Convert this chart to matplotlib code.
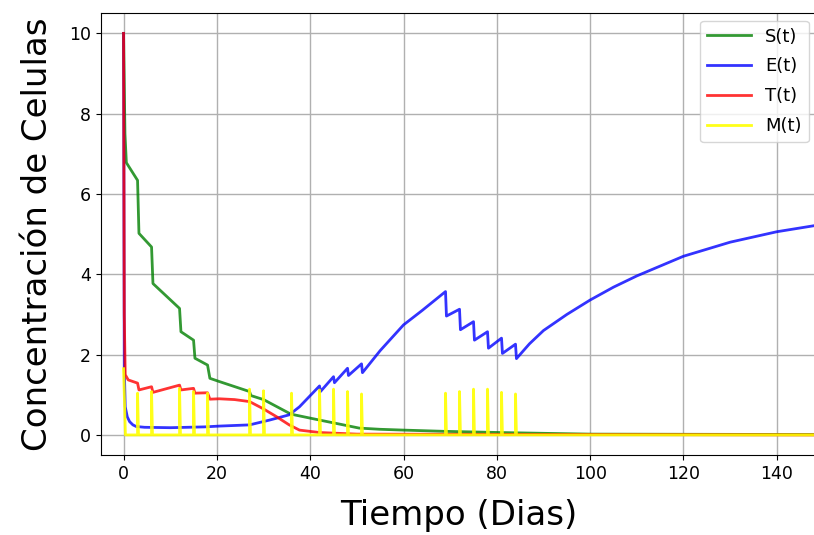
import matplotlib
matplotlib.use('Agg')
import matplotlib.pyplot as plt

# S(t) - green
s_t = [0, 0.3, 0.6, 3.0, 3.3, 6.0, 6.3, 12.0, 12.3, 15.0, 15.3, 18.0, 18.5, 20.5, 27.0, 27.3,
       30.0, 35.5, 36.6, 42.0, 45.0, 50.5, 55.0, 60.0, 68.5, 80.5, 90.0, 100.0, 148.5]
s_v = [10.0, 7.5, 6.78, 6.34, 5.02, 4.68, 3.77, 3.15, 2.57, 2.36, 1.91, 1.74, 1.41, 1.33, 1.08, 0.98,
       0.88, 0.54, 0.5, 0.37, 0.3, 0.17, 0.14, 0.12, 0.09, 0.06, 0.04, 0.02, 0.01]

# E(t) - blue
e_t = [0, 0.15, 0.36, 0.8, 1.3, 2.0, 2.7, 4.5, 10.0, 17.3, 20.5, 27.0, 31.3, 35.5, 37.7,
       42.0, 42.2, 45.0, 45.2, 48.0, 48.2, 51.0, 51.2, 55.0, 60.0, 64.0, 69.0, 69.2,
       72.0, 72.2, 75.0, 75.2, 78.0, 78.2, 81.0, 81.2, 84.0, 84.2,
       87.0, 90.0, 95.0, 100.0, 105.0, 110.0, 120.0, 130.0, 140.0, 148.5]
e_v = [10.0, 1.7, 0.7, 0.45, 0.33, 0.25, 0.21, 0.19, 0.18, 0.2, 0.22, 0.25, 0.37, 0.5, 0.7,
       1.22, 1.08, 1.45, 1.3, 1.66, 1.48, 1.77, 1.55, 2.1, 2.74, 3.1, 3.57, 2.96,
       3.13, 2.62, 2.82, 2.36, 2.57, 2.16, 2.41, 2.03, 2.26, 1.9,
       2.27, 2.6, 3.0, 3.36, 3.68, 3.96, 4.45, 4.8, 5.06, 5.22]

# T(t) - red
t_t = [0, 0.15, 0.36, 1.0, 2.0, 3.0, 3.3, 6.0, 6.3, 12.0, 12.3, 15.0, 15.3, 18.0, 18.5,
       20.5, 23.8, 27.0, 29.8, 32.7, 35.5, 37.7, 42.0, 50.0, 148.5]
t_v = [10.0, 3.0, 1.5, 1.37, 1.33, 1.29, 1.12, 1.2, 1.06, 1.24, 1.12, 1.16, 1.04, 1.05, 0.89,
       0.9, 0.88, 0.83, 0.66, 0.46, 0.25, 0.12, 0.06, 0.02, 0.0]

# M(t) - yellow, drug doses
dose_t = [3, 6, 12, 15, 18, 27, 30, 36, 42, 45, 48, 51, 69, 72, 75, 78, 81, 84]
dose_h = [1.04, 1.08, 1.16, 1.08, 1.04, 1.14, 1.10, 1.04, 1.12, 1.14, 1.08, 1.02,
          1.04, 1.08, 1.14, 1.14, 1.06, 1.02]
m0 = 1.65
t_end = 148.5

m_t = [0, 0.4]
m_v = [m0, 0.0]
for d, h in zip(dose_t, dose_h):
    m_t += [d, d, d + 0.2]
    m_v += [0.0, h, 0.0]
m_t.append(t_end)
m_v.append(0.0)

fig = plt.figure(figsize=(8.14, 5.35), dpi=100)
ax = fig.add_axes([100.6 / 814, 80 / 535, (816 - 100.6) / 814, (455 - 13.3) / 535])

ax.plot(s_t, s_v, color='g', lw=2, alpha=0.8, label='S(t)')
ax.plot(e_t, e_v, color='b', lw=2, alpha=0.8, label='E(t)')
ax.plot(t_t, t_v, color='r', lw=2, alpha=0.8, label='T(t)')
ax.plot(m_t, m_v, color='yellow', lw=2, alpha=0.9, label='M(t)')

ax.set_xlim(-4.92, 148.4)
ax.set_ylim(-0.5, 10.5)
ax.set_xticks(range(0, 141, 20))
ax.set_yticks(range(0, 11, 2))
ax.tick_params(labelsize=12.5)
ax.grid(True, lw=1.0)
ax.set_xlabel('Tiempo (Dias)', fontsize=24.5, labelpad=12)
ax.set_ylabel('Concentración de Celulas', fontsize=24.5, labelpad=11)
ax.legend(loc='upper right', fontsize=13, handlelength=2.4, borderaxespad=0.4,
          labelspacing=0.65)

plt.savefig('out.png', dpi=100)
